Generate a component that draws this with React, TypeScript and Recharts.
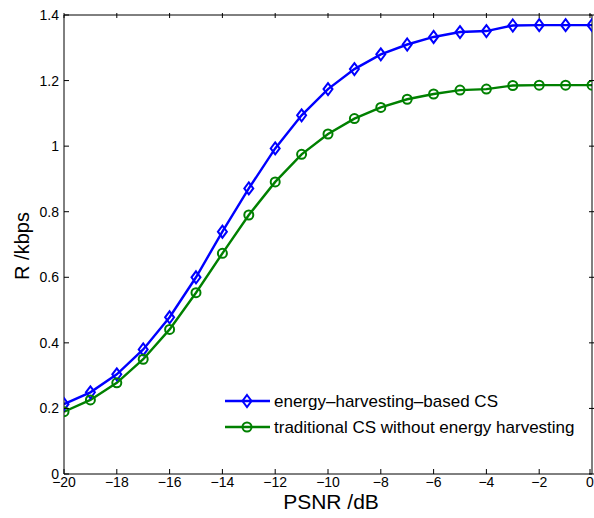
import { LineChart, Line, XAxis, YAxis, Legend } from "recharts";

// PSNR (dB) values on the x axis
const psnr = [-20, -19, -18, -17, -16, -15, -14, -13, -12, -11, -10, -9, -8, -7, -6, -5, -4, -3, -2, -1, 0];
// R (kbps) for the energy-harvesting-based scheme
const energyHarvesting = [0.213, 0.249, 0.304, 0.38, 0.478, 0.6, 0.739, 0.871, 0.993, 1.094, 1.174, 1.235, 1.28, 1.31, 1.333, 1.348, 1.351, 1.368, 1.369, 1.369, 1.369];
// R (kbps) for traditional CS
const traditional = [0.19, 0.226, 0.278, 0.35, 0.441, 0.553, 0.673, 0.79, 0.891, 0.975, 1.037, 1.084, 1.118, 1.143, 1.159, 1.171, 1.174, 1.185, 1.186, 1.186, 1.186];

const xTicks = [-20, -18, -16, -14, -12, -10, -8, -6, -4, -2, 0];
const yTicks = [0, 0.2, 0.4, 0.6, 0.8, 1, 1.2, 1.4];

const seriesNames = ["energy\u2013harvesting\u2013based CS", "traditional CS without energy harvesting"];

const data = psnr.map((x, i) => ({ x, eh: energyHarvesting[i], tr: traditional[i] }));

const FONT = "'Liberation Sans', Arial, Helvetica, sans-serif";
const BLUE = "#0000ff";
const GREEN = "#008000";
const TICK = 5;
const LW = 2.4;

const fmtX = (v: number) => (v < 0 ? "\u2212" + Math.abs(v) : String(v));

function Diamond({ cx, cy }: { cx: number; cy: number }) {
  return (
    <path
      d={`M${cx},${cy - 6}L${cx + 4.5},${cy}L${cx},${cy + 6}L${cx - 4.5},${cy}Z`}
      fill="none"
      stroke={BLUE}
      strokeWidth={2}
    />
  );
}

function Ring({ cx, cy }: { cx: number; cy: number }) {
  return <circle cx={cx} cy={cy} r={4.5} fill="none" stroke={GREEN} strokeWidth={2} />;
}

const BottomTick = (p: any) => (
  <g>
    <line x1={p.x} y1={p.y} x2={p.x} y2={p.y - TICK} stroke="#000" />
    <text x={p.x} y={p.y + 13} textAnchor="middle" fontSize={14} fontFamily={FONT} fill="#000">
      {fmtX(p.payload.value)}
    </text>
  </g>
);

const LeftTick = (p: any) => (
  <g>
    <line x1={p.x} y1={p.y} x2={p.x + TICK} y2={p.y} stroke="#000" />
    <text x={p.x - 5} y={p.y + 5} textAnchor="end" fontSize={14} fontFamily={FONT} fill="#000">
      {p.payload.value}
    </text>
  </g>
);

const TopTick = (p: any) => <line x1={p.x} y1={p.y} x2={p.x} y2={p.y + TICK} stroke="#000" />;
const RightTick = (p: any) => <line x1={p.x} y1={p.y} x2={p.x - TICK} y2={p.y} stroke="#000" />;

const renderLegend = () => (
  <svg width={370} height={54} style={{ display: "block" }}>
    {seriesNames.map((name, i) => {
      const y = 13 + i * 26;
      const color = i === 0 ? BLUE : GREEN;
      return (
        <g key={name}>
          <line x1={3} y1={y} x2={48} y2={y} stroke={color} strokeWidth={LW} />
          {i === 0 ? <Diamond cx={25} cy={y} /> : <Ring cx={25} cy={y} />}
          <text x={52} y={y + 6} fontSize={17} fontFamily={FONT} fill="#000">
            {name}
          </text>
        </g>
      );
    })}
  </svg>
);

export default function App() {
  return (
    <div style={{ position: "absolute", left: 0, top: 0, width: 594, height: 518, background: "#fff" }}>
      <LineChart width={594} height={518} data={data} margin={{ top: 14, right: 1, left: 4, bottom: 14 }}>
        <XAxis
          dataKey="x"
          type="number"
          domain={[-20, 0]}
          ticks={xTicks}
          allowDataOverflow
          height={30}
          tickSize={0}
          tickMargin={0}
          tickLine={false}
          tick={BottomTick}
          axisLine={{ stroke: "#000" }}
        />
        <XAxis
          xAxisId="top"
          orientation="top"
          dataKey="x"
          type="number"
          domain={[-20, 0]}
          ticks={xTicks}
          allowDataOverflow
          height={1}
          tickSize={0}
          tickLine={false}
          tick={TopTick}
          axisLine={{ stroke: "#000" }}
        />
        <YAxis
          type="number"
          domain={[0, 1.4]}
          ticks={yTicks}
          allowDataOverflow
          width={60}
          tickSize={0}
          tickMargin={0}
          tickLine={false}
          tick={LeftTick}
          axisLine={{ stroke: "#000" }}
        />
        <YAxis
          yAxisId="right"
          orientation="right"
          type="number"
          domain={[0, 1.4]}
          ticks={yTicks}
          allowDataOverflow
          width={1}
          tickSize={0}
          tickLine={false}
          tick={RightTick}
          axisLine={{ stroke: "#000" }}
        />
        <Legend
          layout="vertical"
          align="center"
          verticalAlign="middle"
          content={renderLegend}
          wrapperStyle={{ left: 222, top: 388, width: 370 }}
        />
        <Line
          dataKey="eh"
          name={seriesNames[0]}
          type="linear"
          stroke={BLUE}
          strokeWidth={LW}
          dot={(p: any) => <Diamond key={p.index} cx={p.cx} cy={p.cy} />}
          isAnimationActive={false}
        />
        <Line
          dataKey="tr"
          name={seriesNames[1]}
          type="linear"
          stroke={GREEN}
          strokeWidth={LW}
          dot={(p: any) => <Ring key={p.index} cx={p.cx} cy={p.cy} />}
          isAnimationActive={false}
        />
        <text x={331} y={509} textAnchor="middle" fontSize={21} fontFamily={FONT} fill="#000">
          PSNR /dB
        </text>
        <text
          x={29}
          y={246}
          textAnchor="middle"
          fontSize={20}
          fontFamily={FONT}
          fill="#000"
          transform="rotate(-90 29 246)"
        >
          R /kbps
        </text>
      </LineChart>
    </div>
  );
}
